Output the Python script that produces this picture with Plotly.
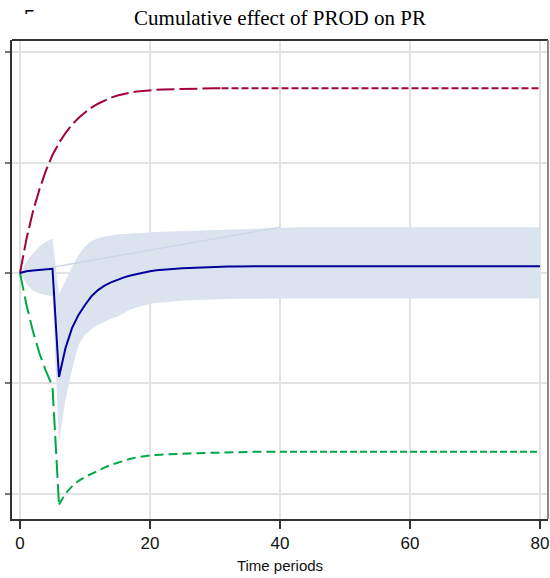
import plotly.graph_objects as go

periods = list(range(0, 81))

effect = [0, 0.015, 0.022, 0.028, 0.033, 0.038, -0.943, -0.68, -0.50, -0.38, -0.29,
          -0.21, -0.155, -0.115, -0.085, -0.06, -0.04, -0.022, -0.008, 0.005, 0.016,
          0.024, 0.030, 0.035, 0.039, 0.043, 0.046, 0.049, 0.051, 0.053, 0.055,
          0.057, 0.058, 0.060, 0.061, 0.061, 0.062, 0.062, 0.062, 0.062, 0.062,
          0.062, 0.062, 0.062, 0.062, 0.062, 0.062, 0.062, 0.062, 0.062, 0.062,
          0.062, 0.062, 0.062, 0.062, 0.062, 0.062, 0.062, 0.062, 0.062, 0.062,
          0.062, 0.062, 0.062, 0.062, 0.062, 0.062, 0.062, 0.062, 0.062, 0.062,
          0.062, 0.062, 0.062, 0.062, 0.062, 0.062, 0.062, 0.062, 0.062, 0.062]

band_upper = [0, 0.10, 0.18, 0.24, 0.285, 0.31, -0.19, -0.065, 0.055, 0.16, 0.24,
              0.29, 0.315, 0.33, 0.342, 0.348, 0.353, 0.358, 0.362, 0.366, 0.37,
              0.372, 0.374, 0.376, 0.378, 0.380, 0.382, 0.384, 0.386, 0.388, 0.390,
              0.392, 0.394, 0.396, 0.399, 0.402, 0.405, 0.408, 0.411, 0.413, 0.415,
              0.415, 0.415, 0.415, 0.415, 0.415, 0.415, 0.415, 0.415, 0.415, 0.415,
              0.415, 0.415, 0.415, 0.415, 0.415, 0.415, 0.415, 0.415, 0.415, 0.415,
              0.415, 0.415, 0.415, 0.415, 0.415, 0.415, 0.415, 0.415, 0.415, 0.415,
              0.415, 0.415, 0.415, 0.415, 0.415, 0.415, 0.415, 0.415, 0.415, 0.415]

band_lower = [0, -0.10, -0.16, -0.185, -0.20, -0.21, -1.53, -1.15, -0.88, -0.65, -0.56,
              -0.51, -0.47, -0.44, -0.415, -0.395, -0.36, -0.33, -0.31, -0.295, -0.28,
              -0.272, -0.265, -0.259, -0.254, -0.250, -0.247, -0.244, -0.241, -0.239, -0.237,
              -0.236, -0.235, -0.234, -0.233, -0.233, -0.232, -0.232, -0.232, -0.232, -0.232,
              -0.232, -0.232, -0.232, -0.232, -0.232, -0.232, -0.232, -0.232, -0.232, -0.232,
              -0.232, -0.232, -0.232, -0.232, -0.232, -0.232, -0.232, -0.232, -0.232, -0.232,
              -0.232, -0.232, -0.232, -0.232, -0.232, -0.232, -0.232, -0.232, -0.232, -0.232,
              -0.232, -0.232, -0.232, -0.232, -0.232, -0.232, -0.232, -0.232, -0.232, -0.232]

upper_bound = [0, 0.31, 0.56, 0.76, 0.93, 1.07, 1.18, 1.27, 1.345, 1.405, 1.455,
               1.50, 1.535, 1.565, 1.59, 1.61, 1.625, 1.637, 1.646, 1.653, 1.658,
               1.662, 1.665, 1.667, 1.669, 1.670, 1.671, 1.672, 1.673, 1.674, 1.675,
               1.676, 1.676, 1.676, 1.676, 1.676, 1.676, 1.676, 1.676, 1.676, 1.676,
               1.676, 1.676, 1.676, 1.676, 1.676, 1.676, 1.676, 1.676, 1.676, 1.676,
               1.676, 1.676, 1.676, 1.676, 1.676, 1.676, 1.676, 1.676, 1.676, 1.676,
               1.676, 1.676, 1.676, 1.676, 1.676, 1.676, 1.676, 1.676, 1.676, 1.676,
               1.676, 1.676, 1.676, 1.676, 1.676, 1.676, 1.676, 1.676, 1.676, 1.676]

lower_bound = [0, -0.29, -0.53, -0.73, -0.89, -1.03, -2.10, -2.00, -1.935, -1.885, -1.85,
               -1.82, -1.79, -1.765, -1.74, -1.72, -1.70, -1.685, -1.672, -1.662, -1.655,
               -1.650, -1.646, -1.643, -1.640, -1.638, -1.636, -1.634, -1.632, -1.630, -1.628,
               -1.627, -1.626, -1.625, -1.624, -1.623, -1.622, -1.621, -1.620, -1.620, -1.620,
               -1.620, -1.620, -1.620, -1.620, -1.620, -1.620, -1.620, -1.620, -1.620, -1.620,
               -1.620, -1.620, -1.620, -1.620, -1.620, -1.620, -1.620, -1.620, -1.620, -1.620,
               -1.620, -1.620, -1.620, -1.620, -1.620, -1.620, -1.620, -1.620, -1.620, -1.620,
               -1.620, -1.620, -1.620, -1.620, -1.620, -1.620, -1.620, -1.620, -1.620, -1.620]

x_ticks = [0, 20, 40, 60, 80]
y_ticks = [-2, -1, 0, 1, 2]

BAND = "rgb(219,227,239)"
BLUE = "#00009c"
RED = "#a3003f"
GREEN = "#00a845"
SANS = "Liberation Sans Narrow, Liberation Sans, Arial"

fig = go.Figure()

# confidence band
fig.add_trace(go.Scatter(x=periods, y=band_lower, mode="lines",
                         line=dict(width=0, color=BAND), hoverinfo="skip",
                         showlegend=False))
fig.add_trace(go.Scatter(x=periods, y=band_upper, mode="lines", fill="tonexty",
                         fillcolor=BAND, line=dict(width=0, color=BAND),
                         hoverinfo="skip", showlegend=False))
# faint band edge running from the origin
fig.add_trace(go.Scatter(x=[periods[0], periods[40]], y=[band_upper[0], band_upper[40]],
                         mode="lines", line=dict(width=1.5, color="rgb(204,215,233)"),
                         hoverinfo="skip", showlegend=False))

# upper bound (dashed, two dash rhythms)
fig.add_trace(go.Scatter(x=periods[:32], y=upper_bound[:32], mode="lines",
                         line=dict(color=RED, width=2, dash="18px,5px"),
                         showlegend=False))
fig.add_trace(go.Scatter(x=periods[31:], y=upper_bound[31:], mode="lines",
                         line=dict(color=RED, width=2, dash="7px,3px"),
                         showlegend=False))

# lower bound
fig.add_trace(go.Scatter(x=periods[:7], y=lower_bound[:7], mode="lines",
                         line=dict(color=GREEN, width=2, dash="18px,6px"),
                         showlegend=False))
fig.add_trace(go.Scatter(x=periods[6:41], y=lower_bound[6:41], mode="lines",
                         line=dict(color=GREEN, width=2, dash="9px,5px"),
                         showlegend=False))
fig.add_trace(go.Scatter(x=periods[40:], y=lower_bound[40:], mode="lines",
                         line=dict(color=GREEN, width=2, dash="7px,3px"),
                         showlegend=False))

# cumulative effect
fig.add_trace(go.Scatter(x=periods, y=effect, mode="lines",
                         line=dict(color=BLUE, width=2), showlegend=False))

fig.update_layout(
    width=550, height=578,
    margin=dict(l=12, r=2, t=40, b=59),
    paper_bgcolor="white", plot_bgcolor="white",
    title=dict(text="Cumulative effect of PROD on PR",
               font=dict(family="Liberation Serif", size=21, color="black"),
               x=0.5, xref="paper", xanchor="center",
               y=1 - 18 / 578, yref="container", yanchor="middle"),
    xaxis=dict(range=[-1.23, 81.23], tickvals=x_ticks, ticktext=[str(v) for v in x_ticks],
               ticklabeloverflow="allow",
               showgrid=True, gridcolor="#e2e2e2", gridwidth=1.5,
               zeroline=False, showline=True, linecolor="#333333", linewidth=2,
               ticks="outside", ticklen=8, tickwidth=1.5, tickcolor="#333333",
               tickfont=dict(family=SANS, size=17, color="#111111"),
               title=dict(text="Time periods", standoff=8,
                          font=dict(family=SANS, size=15, color="#111111"))),
    yaxis=dict(range=[-2.231, 2.113], tickvals=y_ticks, showticklabels=False,
               showgrid=True, gridcolor="#e2e2e2", gridwidth=1.5,
               zeroline=False, showline=True, linecolor="#333333", linewidth=2,
               ticks="outside", ticklen=5, tickwidth=1.5, tickcolor="#777777"),
    shapes=[
        dict(type="line", xref="paper", yref="paper", x0=0, x1=1, y0=1, y1=1,
             line=dict(color="#333333", width=2)),
        dict(type="line", xref="paper", yref="paper", x0=1, x1=1, y0=0, y1=1,
             line=dict(color="#888888", width=2)),
    ],
    annotations=[
        dict(text="<b>⌐</b>", xref="paper", yref="paper", x=(29 - 12) / 536,
             y=(519 - 11) / 479,
             xanchor="center", yanchor="middle", showarrow=False,
             font=dict(family="DejaVu Sans", size=13, color="black")),
    ],
)

fig.write_html("out.html")
